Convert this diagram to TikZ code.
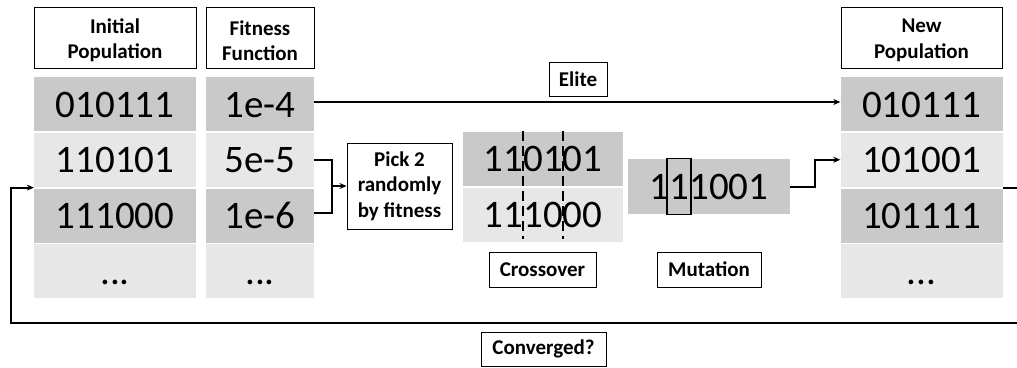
\documentclass[tikz,border=0pt]{standalone}
\usepackage{fontspec}
\setmainfont{Carlito}
\usetikzlibrary{arrows.meta,calc}
\definecolor{cdark}{HTML}{C9C9C9}
\definecolor{clight}{HTML}{E7E7E7}
\newcommand{\bignum}{\fontsize{39}{44}\selectfont}
\newcommand{\lbl}{\fontsize{21}{25.5}\selectfont\bfseries}
\begin{document}
\begin{tikzpicture}[x=1pt,y=-1pt,
  cell/.style={inner sep=0pt, minimum height=54pt, text height=26pt, text depth=0pt, font=\bignum},
  dk/.style={cell, fill=cdark},
  lt/.style={cell, fill=clight},
  wide/.style={minimum width=162pt},
  narrow/.style={minimum width=108pt},
  lbox/.style={draw, line width=1pt, inner sep=0pt, align=center, font=\lbl},
  htext/.style={inner sep=0pt, align=center, font=\lbl},
  flow/.style={line width=2pt, -{Stealth[length=7pt,width=6pt]}},
  plain/.style={line width=2pt},
  cut/.style={line width=1.8pt, dash pattern=on 10pt off 5pt}]
\useasboundingbox (0,0) rectangle (1017,367);
\clip (0,0) rectangle (1017,367);

% header labels
\node[lbox, minimum width=162pt, minimum height=61pt] (hInit) at (115,37.5) {};
\node[htext] (hInitT) at ([yshift=-3pt]hInit.center) {Initial\\Population};
\node[lbox, minimum width=108pt, minimum height=61pt] (hFit) at (260,37.5) {};
\node[htext] (hFitT) at ([yshift=-3pt]hFit.center) {Fitness\\Function};
\node[lbox, minimum width=161pt, minimum height=61pt] (hNew) at (921.5,37.5) {};
\node[htext] (hNewT) at ([yshift=-3pt]hNew.center) {New\\Population};

% initial population
\node[dk, wide] (p1) at (115,104) {010111};
\node[lt, wide] (p2) at (115,159.75) {110101};
\node[dk, wide] (p3) at (115,215.5) {111000};
\node[lt, wide] (p4) at (115,271.25) {...};

% fitness
\node[dk, narrow] (f1) at (260,104) {1e-4};
\node[lt, narrow] (f2) at (260,159.75) {5e-5};
\node[dk, narrow] (f3) at (260,215.5) {1e-6};
\node[lt, narrow] (f4) at (260,271.25) {...};

% new population
\node[dk, wide] (n1) at (921.5,104) {010111};
\node[lt, wide] (n2) at (921.5,159.75) {101001};
\node[dk, wide] (n3) at (921.5,215.5) {101111};
\node[lt, wide] (n4) at (921.5,271.25) {...};

% pick box
\node[lbox, minimum width=105pt, minimum height=86pt] (pick) at (399.5,186) {Pick 2\\randomly\\by fitness};

% crossover
\node[dk, minimum width=160pt] (c1) at (543,158.5) {110101};
\node[lt, minimum width=160pt] (c2) at (543,214.5) {111000};
\draw[cut] ([xshift=-20pt]c1.north) -- ([xshift=-20pt,yshift=3pt]c2.south);
\draw[cut] ([xshift=20pt]c1.north) -- ([xshift=20pt,yshift=3pt]c2.south);
\node[lbox, minimum width=107pt, minimum height=35pt] (cross) at (542.5,269.5) {Crossover};

% mutation
\node[dk, wide, minimum height=55pt] (mut) at (709,186.5) {111001};
\node[draw, line width=1.5pt, minimum width=24pt, minimum height=56pt, inner sep=0pt] (mbit) at (679,186.5) {};
\node[lbox, minimum width=104pt, minimum height=35pt] (mlab) at (709,269.5) {Mutation};

% elite
\node[lbox, minimum width=58pt, minimum height=34pt] (elite) at (578,79) {Elite};
\draw[flow] ([yshift=2pt]f1.east) -- ([yshift=2pt]n1.west);

% bracket to pick
\coordinate (bx) at (332,186);
\draw[plain] (f2.east) -| (bx);
\draw[plain] ([yshift=3pt]f3.east) -| (bx);
\draw[flow] (bx) -- (pick.west);

% mutation to new population
\draw[flow] (mut.east) -- ++(25,0) |- (n2.west);

% feedback loop
\coordinate (nOut) at ($(n2.south east)!0.5!(n3.north east)$);
\coordinate (pIn) at ($(p2.south west)!0.5!(p3.north west)$);
\coordinate (rb) at (1030,322.5);
\coordinate (lb) at (11,322.5);
\draw[flow] (nOut) -| (rb) -- (lb) |- (pIn);

\node[lbox, minimum width=125pt, minimum height=34pt] (conv) at (543.5,349) {Converged?};
\end{tikzpicture}
\end{document}
